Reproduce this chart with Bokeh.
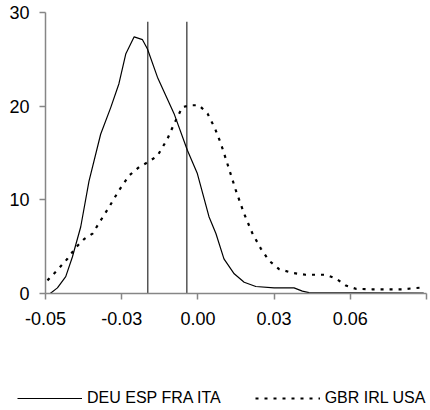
from bokeh.plotting import figure
from bokeh.models import FixedTicker, NumeralTickFormatter, Legend, LegendItem, Range1d
from bokeh.embed import file_html
from bokeh.resources import INLINE

# Series 1: DEU ESP FRA ITA (solid)
x_south = [-0.0524, -0.0498, -0.0468, -0.0444, -0.0414, -0.0384, -0.0342, -0.0305, -0.0276,
           -0.0251, -0.0221, -0.0191, -0.0173, -0.0137, -0.0077, -0.0029, 0.0007, 0.0049,
           0.0074, 0.0103, 0.0140, 0.0176, 0.0218, 0.0284, 0.0356, 0.0386, 0.0410, 0.0824]
y_south = [0.0, 0.6, 1.8, 3.9, 7.1, 12.0, 17.0, 19.9, 22.4,
           25.6, 27.4, 27.1, 26.1, 23.1, 19.2, 15.3, 12.8, 8.2,
           6.4, 3.7, 2.1, 1.2, 0.75, 0.6, 0.6, 0.25, 0.1, 0.05]

# Series 2: GBR IRL USA (dotted)
x_anglo = [-0.0534, -0.0498, -0.0462, -0.0432, -0.0402, -0.0371, -0.0342, -0.0312, -0.0276,
           -0.0239, -0.0203, -0.0173, -0.0137, -0.0101, -0.0077, -0.0047, -0.0017, 0.0013,
           0.0044, 0.0071, 0.0092, 0.0116, 0.0146, 0.0176, 0.0206, 0.0236, 0.0266, 0.0302,
           0.0350, 0.0398, 0.0471, 0.0507, 0.0543, 0.0579, 0.0639, 0.0747, 0.0783, 0.0825]
y_anglo = [1.4, 2.5, 3.7, 4.9, 5.8, 6.4, 7.8, 9.2, 11.0,
           12.6, 13.5, 14.0, 14.7, 16.5, 18.1, 19.9, 20.1, 20.1,
           19.2, 17.6, 16.0, 13.8, 11.0, 8.5, 6.4, 4.8, 3.5, 2.6,
           2.2, 2.0, 2.0, 1.6, 0.85, 0.5, 0.45, 0.45, 0.55, 0.65]

# Vertical reference lines
vline_x = [-0.0172, -0.0031]
vline_top = [29.0, 29.0]

labels = ["DEU ESP FRA ITA", "GBR IRL USA"]
x_ticks = [-0.0541, -0.0266, 0.0009, 0.0284, 0.0559, 0.0834]
y_ticks = [0, 10, 20, 30]

FONT = "Liberation Sans"
AXIS_COLOR = "#868686"
SOLID = dict(line_color="black", line_width=1.2)
DOTTED = dict(line_color="black", line_width=2.2, line_dash="3 6")

p = figure(width=430, height=338, output_backend="svg", toolbar_location=None,
           x_range=Range1d(-0.0541, 0.0834), y_range=Range1d(0, 30),
           min_border_left=45, min_border_right=4, min_border_top=12, min_border_bottom=45)
p.outline_line_color = None
p.xgrid.visible = False
p.ygrid.visible = False
p.background_fill_color = "white"
p.border_fill_color = "white"

p.segment(x0=vline_x, y0=[0, 0], x1=vline_x, y1=vline_top, line_color="#555555", line_width=1.5)
p.line(x_south, y_south, **SOLID)
p.line(x_anglo, y_anglo, **DOTTED)

for ax in (p.xaxis[0], p.yaxis[0]):
    ax.axis_line_color = AXIS_COLOR
    ax.axis_line_width = 1.5
    ax.major_tick_line_color = AXIS_COLOR
    ax.major_tick_line_width = 1.5
    ax.major_tick_in = 0
    ax.major_tick_out = 6
    ax.minor_tick_line_color = None
    ax.major_label_text_font = FONT
    ax.major_label_text_font_size = "18px"
    ax.major_label_text_color = "black"

p.xaxis[0].ticker = FixedTicker(ticks=x_ticks)
p.xaxis[0].formatter = NumeralTickFormatter(format="0.00")
p.xaxis[0].major_label_overrides = {0.0834: ""}
p.xaxis[0].major_label_standoff = 12
p.yaxis[0].ticker = FixedTicker(ticks=y_ticks)
p.yaxis[0].major_label_standoff = 10

# Legend strip below the chart (separate root, so its frame is not aligned to the chart's)
pl = figure(width=430, height=72, output_backend="svg", toolbar_location=None,
            x_axis_location=None, y_axis_location=None,
            x_range=Range1d(1000, 1001), y_range=Range1d(1000, 1001),
            min_border_left=0, min_border_right=0, min_border_top=0, min_border_bottom=0)
pl.outline_line_color = None
pl.xgrid.visible = False
pl.ygrid.visible = False
# same series drawn far outside this strip's ranges: only their legend glyphs show
l1 = pl.line(x_south, y_south, **SOLID)
l2 = pl.line(x_anglo, y_anglo, **DOTTED)
legend = Legend(items=[LegendItem(label=labels[0], renderers=[l1]),
                       LegendItem(label=labels[1], renderers=[l2])],
                orientation="horizontal", location=(17, 2),
                glyph_width=65, glyph_height=20, label_standoff=5, spacing=34,
                padding=0, margin=0, border_line_color=None, background_fill_alpha=0,
                label_text_font=FONT, label_text_font_size="16px", label_text_color="black")
pl.add_layout(legend, "center")

open("out.html", "w").write(file_html([p, pl], INLINE))
